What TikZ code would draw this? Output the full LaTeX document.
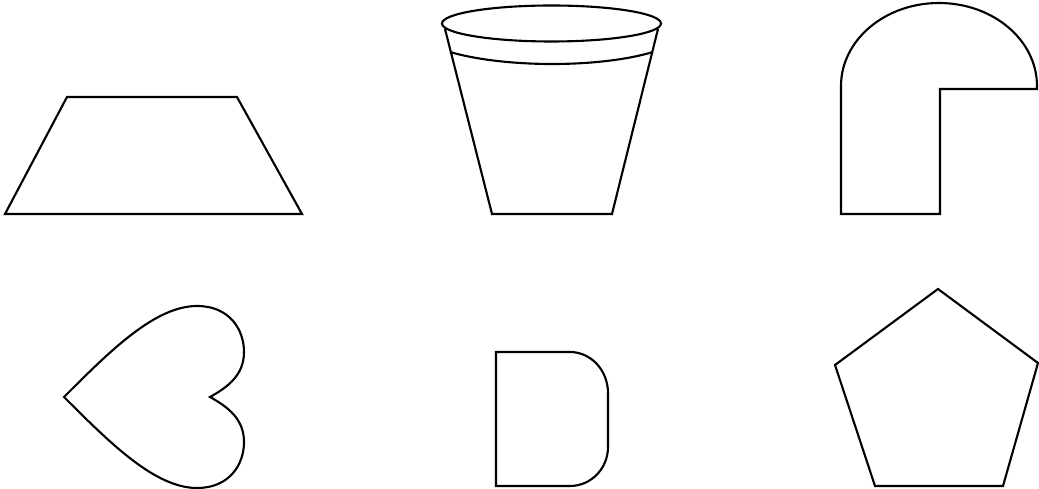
\documentclass[tikz,border=0pt]{standalone}
\usepackage{tikz}
\usetikzlibrary{calc}
\tikzset{shapeline/.style={draw=black, line width=1.2pt, line join=miter}}

\begin{document}
\begin{tikzpicture}[x=0.02cm, y=-0.02cm]
  \useasboundingbox (0,0) rectangle (1039,489);

  %--- Trapezium ---
  \draw[shapeline] (67,97) -- (237,97) -- (302,214) -- (5,214) -- cycle;

  %--- Cup ---
  \draw[shapeline] (551.5,23.5) ellipse [x radius=109.5, y radius=18];
  \draw[shapeline] (445,29) -- (492,214) -- (612,214) -- (658,29);
  \draw[shapeline] (450,52) .. controls (505,68) and (600,68) .. (653,52);

  %--- Arch with notch ---
  \draw[shapeline] (841,214) -- (841,86)
    arc [start angle=180, end angle=0, x radius=98, y radius=-83]
    -- (1037,89) -- (940,89) -- (940,214) -- cycle;

  %--- Heart (lying on its side) ---
  \draw[shapeline] (64,397) .. controls (110,351) and (155,306) .. (197,306)
    .. controls (230,306) and (244,330) .. (244,352)
    .. controls (244,375) and (228,387) .. (210,397)
    .. controls (228,407) and (244,419) .. (244,442)
    .. controls (244,464) and (230,488) .. (197,488)
    .. controls (155,488) and (110,443) .. (64,397) -- cycle;

  %--- D shape ---
  \draw[shapeline] (496,352) -- (570,352)
    arc [start angle=90, end angle=0, x radius=38, y radius=-41]
    -- (608,447)
    arc [start angle=0, end angle=-90, x radius=38, y radius=-39]
    -- (496,486) -- cycle;

  %--- Pentagon ---
  \draw[shapeline] (938,289) -- (1038,363) -- (1003,486) -- (875,486) -- (835,365) -- cycle;
\end{tikzpicture}
\end{document}
